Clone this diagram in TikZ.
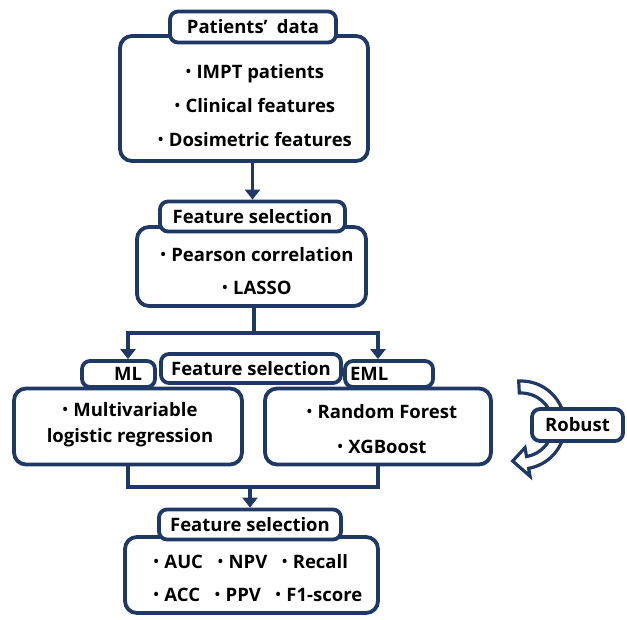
\documentclass[tikz,border=0pt]{standalone}
\usepackage{fontspec}
\setmainfont{Open Sans}
\usetikzlibrary{arrows.meta}
\definecolor{navy}{RGB}{31,56,100}
\newcommand{\itm}{\raisebox{.25ex}{\scalebox{.75}{\textbullet}}\hspace{.3em}}
\tikzset{
  box/.style={draw=navy, line width=3.8pt, rounded corners=12pt, fill=white, inner sep=0pt},
  tab/.style={draw=navy, line width=3.8pt, rounded corners=8pt, fill=white, inner sep=0pt},
  txt/.style={align=center, font=\fontsize{18.5}{#1}\selectfont\bfseries},
  link/.style={draw=navy, line width=3.8pt},
  arr/.style={link, -{Triangle[width=15pt,length=10pt]}}
}
\begin{document}
\begin{tikzpicture}[x=1pt,y=-1pt,font=\fontsize{18.5}{23}\selectfont\bfseries]
\useasboundingbox (0,0) rectangle (627,619);
%\draw[help lines,step=50] (0,0) grid (627,619);
\path
(244,98.5) node[box,minimum width=248pt,minimum height=125pt] (pd) {}
(253,27) node[tab,minimum width=166pt,minimum height=31pt] (pdh) {Patients’\hspace{.5em}data}
(255,106) node[txt=34] (pdt) {\itm IMPT patients\\ \itm Clinical features\\ \itm Dosimetric features};
\path
(251.5,266.5) node[box,minimum width=229pt,minimum height=79pt] (fs) {}
(252.5,216.5) node[tab,minimum width=185pt,minimum height=30pt] (fsh) {Feature selection}
(257,271.5) node[txt=33] (fst) {\itm Pearson correlation\\ \itm LASSO};
\path
(128,426.5) node[box,minimum width=228pt,minimum height=76pt] (ml) {}
(378,426.5) node[box,minimum width=226pt,minimum height=76pt] (eml) {}
(118.5,374) node[tab,minimum width=73pt,minimum height=26pt,text width=47pt,align=right] (mlh) {ML}
(389,374) node[tab,minimum width=88pt,minimum height=26pt,text width=78pt,align=left] (emlh) {EML}
(251,368.5) node[tab,minimum width=180pt,minimum height=29pt] (fsb) {Feature selection}
(130,424.5) node[txt=25.5] (mlt) {\itm Multivariable\\ logistic regression}
(382,429.5) node[txt=35] (emlt) {\itm Random Forest\\ \itm XGBoost};
\path
(251.5,575) node[box,minimum width=253pt,minimum height=76pt] (ev) {}
(250,524.5) node[tab,minimum width=182pt,minimum height=30pt] (evh) {Feature selection}
(258,578.5) node[txt=33,align=left] (evt) {\itm AUC\hspace{.8em}\itm NPV\hspace{.8em}\itm Recall\\ \itm ACC\hspace{.8em}\itm PPV\hspace{.8em}\itm F1-score};
\coordinate (s) at (254,333);
\coordinate (j) at (250,487);
\draw[arr] (pd.south -| fsh.north) -- (fsh.north);
\draw[link] (fs.south -| s) -- (s);
\draw[arr] (s) -| (ml.north |- mlh.north);
\draw[arr] (s) -| (eml.north |- emlh.north);
\draw[link] (ml.south) |- (j) -| (eml.south);
\draw[arr] (j) -- (evh.north);
% robust loop
\draw[link,line width=3.2pt,fill=white,line join=miter]
plot[domain=-93:80,samples=40] ({521+44*cos(\x)},{425+44*sin(\x)})
-- ({521+52*cos(80)},{425+52*sin(80)})
-- ({521+37*cos(103)},{425+37*sin(103)})
-- ({521+23*cos(80)},{425+23*sin(80)})
-- plot[domain=80:-93,samples=40] ({521+32*cos(\x)},{425+32*sin(\x)}) -- cycle;
\node[tab,minimum width=91pt,minimum height=32pt] (rob) at (577.5,425) {Robust};
\end{tikzpicture}
\end{document}
